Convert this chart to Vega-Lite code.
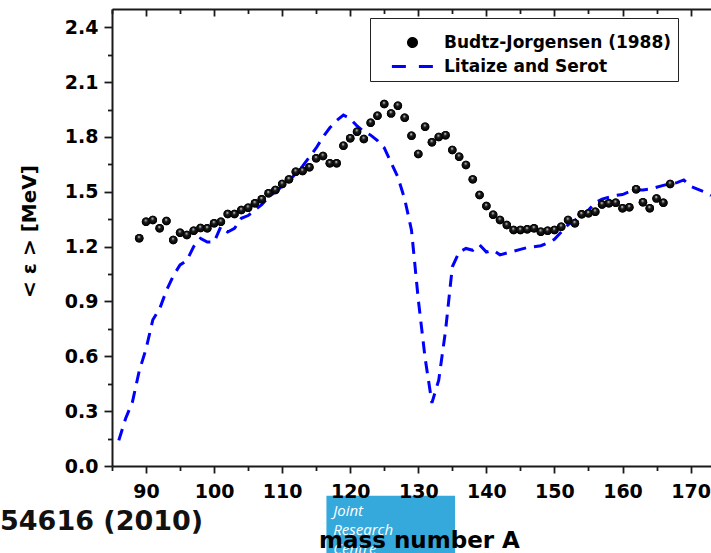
{
  "$schema": "https://vega.github.io/schema/vega-lite/v6.json",
  "width": 599,
  "height": 457,
  "autosize": {"type": "none"},
  "padding": {"left": 112, "top": 9, "right": 0, "bottom": 87},
  "background": "white",
  "config": {
    "view": {"stroke": null},
    "axis": {
      "domainColor": "#1a1a1a",
      "domainWidth": 2,
      "tickColor": "#1a1a1a",
      "tickWidth": 1.8,
      "grid": false,
      "labelFont": "DejaVu Sans",
      "labelFontWeight": "bold",
      "labelFontSize": 19,
      "labelColor": "#000000",
      "titleFont": "DejaVu Sans",
      "titleFontWeight": "bold",
      "titleColor": "#000000"
    }
  },
  "datasets": {
    "litaize": [
      {"A": 86, "e": 0.14}, {"A": 87, "e": 0.26}, {"A": 88, "e": 0.35}, {"A": 89, "e": 0.52},
      {"A": 90, "e": 0.64}, {"A": 91, "e": 0.8}, {"A": 92, "e": 0.86}, {"A": 93, "e": 0.96},
      {"A": 94, "e": 1.04}, {"A": 95, "e": 1.1}, {"A": 96, "e": 1.125}, {"A": 97, "e": 1.2},
      {"A": 98, "e": 1.245}, {"A": 99, "e": 1.225}, {"A": 100, "e": 1.225}, {"A": 101, "e": 1.31},
      {"A": 102, "e": 1.28}, {"A": 103, "e": 1.3}, {"A": 104, "e": 1.355}, {"A": 105, "e": 1.37},
      {"A": 106, "e": 1.4}, {"A": 107, "e": 1.43}, {"A": 108, "e": 1.47}, {"A": 109, "e": 1.5},
      {"A": 110, "e": 1.53}, {"A": 111, "e": 1.56}, {"A": 112, "e": 1.6}, {"A": 113, "e": 1.64},
      {"A": 114, "e": 1.69}, {"A": 115, "e": 1.74}, {"A": 116, "e": 1.8}, {"A": 117, "e": 1.85},
      {"A": 118, "e": 1.89}, {"A": 119, "e": 1.92}, {"A": 120, "e": 1.9}, {"A": 121, "e": 1.86},
      {"A": 122, "e": 1.83}, {"A": 123, "e": 1.81}, {"A": 124, "e": 1.78}, {"A": 125, "e": 1.74},
      {"A": 126, "e": 1.66}, {"A": 127, "e": 1.58}, {"A": 128, "e": 1.46}, {"A": 129, "e": 1.29},
      {"A": 130, "e": 0.91}, {"A": 131, "e": 0.59}, {"A": 132, "e": 0.345}, {"A": 133, "e": 0.47},
      {"A": 134, "e": 0.74}, {"A": 135, "e": 1.09}, {"A": 136, "e": 1.17}, {"A": 137, "e": 1.19},
      {"A": 138, "e": 1.18}, {"A": 139, "e": 1.21}, {"A": 140, "e": 1.17}, {"A": 141, "e": 1.18},
      {"A": 142, "e": 1.155}, {"A": 143, "e": 1.165}, {"A": 144, "e": 1.175}, {"A": 145, "e": 1.185},
      {"A": 146, "e": 1.195}, {"A": 147, "e": 1.2}, {"A": 148, "e": 1.205}, {"A": 149, "e": 1.22},
      {"A": 150, "e": 1.24}, {"A": 151, "e": 1.28}, {"A": 152, "e": 1.32}, {"A": 153, "e": 1.345},
      {"A": 154, "e": 1.37}, {"A": 155, "e": 1.4}, {"A": 156, "e": 1.44}, {"A": 157, "e": 1.46},
      {"A": 158, "e": 1.47}, {"A": 159, "e": 1.48}, {"A": 160, "e": 1.485}, {"A": 161, "e": 1.5},
      {"A": 162, "e": 1.51}, {"A": 163, "e": 1.51}, {"A": 164, "e": 1.515}, {"A": 165, "e": 1.525},
      {"A": 166, "e": 1.535}, {"A": 167, "e": 1.545}, {"A": 168, "e": 1.55}, {"A": 169, "e": 1.565},
      {"A": 170, "e": 1.53}, {"A": 171, "e": 1.515}, {"A": 172, "e": 1.5}, {"A": 173, "e": 1.48}
    ],
    "budtz": [
      {"A": 89, "e": 1.246}, {"A": 90, "e": 1.336}, {"A": 91, "e": 1.346}, {"A": 92, "e": 1.3},
      {"A": 93, "e": 1.34}, {"A": 94, "e": 1.236}, {"A": 95, "e": 1.276}, {"A": 96, "e": 1.264},
      {"A": 97, "e": 1.287}, {"A": 98, "e": 1.302}, {"A": 99, "e": 1.3}, {"A": 100, "e": 1.328},
      {"A": 101, "e": 1.336}, {"A": 102, "e": 1.378}, {"A": 103, "e": 1.378}, {"A": 104, "e": 1.4},
      {"A": 105, "e": 1.413}, {"A": 106, "e": 1.437}, {"A": 107, "e": 1.459}, {"A": 108, "e": 1.492},
      {"A": 109, "e": 1.51}, {"A": 110, "e": 1.543}, {"A": 111, "e": 1.568}, {"A": 112, "e": 1.61},
      {"A": 113, "e": 1.614}, {"A": 114, "e": 1.634}, {"A": 115, "e": 1.683}, {"A": 116, "e": 1.696},
      {"A": 117, "e": 1.656}, {"A": 118, "e": 1.656}, {"A": 119, "e": 1.752}, {"A": 120, "e": 1.793},
      {"A": 121, "e": 1.829}, {"A": 122, "e": 1.789}, {"A": 123, "e": 1.878}, {"A": 124, "e": 1.916},
      {"A": 125, "e": 1.98}, {"A": 126, "e": 1.929}, {"A": 127, "e": 1.971}, {"A": 128, "e": 1.905},
      {"A": 129, "e": 1.807}, {"A": 130, "e": 1.707}, {"A": 131, "e": 1.856}, {"A": 132, "e": 1.771},
      {"A": 133, "e": 1.8}, {"A": 134, "e": 1.81}, {"A": 135, "e": 1.729}, {"A": 136, "e": 1.692},
      {"A": 137, "e": 1.647}, {"A": 138, "e": 1.568}, {"A": 139, "e": 1.482}, {"A": 140, "e": 1.422},
      {"A": 141, "e": 1.375}, {"A": 142, "e": 1.346}, {"A": 143, "e": 1.318}, {"A": 144, "e": 1.291},
      {"A": 145, "e": 1.291}, {"A": 146, "e": 1.295}, {"A": 147, "e": 1.3}, {"A": 148, "e": 1.282},
      {"A": 149, "e": 1.287}, {"A": 150, "e": 1.291}, {"A": 151, "e": 1.309}, {"A": 152, "e": 1.346},
      {"A": 153, "e": 1.328}, {"A": 154, "e": 1.377}, {"A": 155, "e": 1.382}, {"A": 156, "e": 1.391},
      {"A": 157, "e": 1.431}, {"A": 158, "e": 1.437}, {"A": 159, "e": 1.44}, {"A": 160, "e": 1.41},
      {"A": 161, "e": 1.415}, {"A": 162, "e": 1.514}, {"A": 163, "e": 1.443}, {"A": 164, "e": 1.41},
      {"A": 165, "e": 1.464}, {"A": 166, "e": 1.44}, {"A": 167, "e": 1.543}
    ],
    "notes": [
      {"x": 116.5, "x2": 135.4, "y": -0.1625, "y2": -0.5, "tx": 117.5, "ty": -0.2735, "cx": 98.4, "cy": -0.35}
    ]
  },
  "resolve": {"axis": {"x": "independent", "y": "independent"}},
  "layer": [
    {
      "data": {"name": "litaize"},
      "mark": {"type": "line", "strokeWidth": 3, "strokeDash": [12, 8], "interpolate": "linear"},
      "encoding": {
        "x": {
          "field": "A", "type": "quantitative",
          "scale": {"domain": [85, 173], "nice": false, "zero": false},
          "axis": {
            "orient": "bottom", "values": [90, 100, 110, 120, 130, 140, 150, 160, 170],
            "tickSize": 7, "labelPadding": 9, "labelFlush": false,
            "title": "mass number A", "titleFontSize": 23,
            "titleX": 307, "titleY": 81, "titleBaseline": "alphabetic", "titleAlign": "center",
            "zindex": 2
          }
        },
        "y": {
          "field": "e", "type": "quantitative",
          "scale": {"domain": [0, 2.5], "nice": false, "zero": false},
          "axis": {
            "orient": "left", "values": [0, 0.3, 0.6, 0.9, 1.2, 1.5, 1.8, 2.1, 2.4],
            "format": ".1f", "tickSize": 8, "labelPadding": 6, "labelFlush": false,
            "title": "< ε > [MeV]", "titleFontSize": 20, "titleAngle": -90,
            "titleX": -83, "titleY": 222, "titleBaseline": "middle", "titleAlign": "center"
          }
        },
        "color": {
          "datum": "Litaize and Serot",
          "scale": {
            "domain": ["Budtz-Jorgensen (1988)", "Litaize and Serot"],
            "range": ["#000000", "#0000ff"]
          },
          "legend": {
            "orient": "none", "legendX": 258, "legendY": 9,
            "title": " ", "titleFontSize": 8, "titlePadding": 2,
            "strokeColor": "#222222", "fillColor": "#ffffff", "padding": 6,
            "labelFont": "DejaVu Sans", "labelFontWeight": "bold", "labelFontSize": 17,
            "labelColor": "#000000", "labelOffset": 23, "labelLimit": 0,
            "rowPadding": 4, "symbolOffset": 28,
            "encode": {
              "labels": {
                "update": {
                  "text": {"signal": "datum.label + '\u2003\u2003'"}
                }
              },
              "symbols": {
                "update": {
                  "shape": {"signal": "datum.value === 'Litaize and Serot' ? 'stroke' : 'circle'"},
                  "size": {"signal": "datum.value === 'Litaize and Serot' ? 1700 : 64"},
                  "fill": {"signal": "datum.value === 'Litaize and Serot' ? 'transparent' : '#000000'"},
                  "stroke": {"signal": "datum.value === 'Litaize and Serot' ? '#0000ff' : 'transparent'"},
                  "strokeWidth": {"value": 3},
                  "strokeDash": {"signal": "datum.value === 'Litaize and Serot' ? [14, 13] : [1, 0]"},
                  "opacity": {"value": 1}
                }
              }
            }
          }
        }
      }
    },
    {
      "data": {"name": "budtz"},
      "mark": {"type": "point", "filled": true, "opacity": 1, "size": 72},
      "encoding": {
        "x": {
          "field": "A", "type": "quantitative",
          "axis": {
            "orient": "top", "values": [90, 100, 110, 120, 130, 140, 150, 160, 170],
            "tickSize": -7, "labels": false, "title": null
          }
        },
        "y": {
          "field": "e", "type": "quantitative",
          "axis": {
            "orient": "left", "values": [0.15, 0.45, 0.75, 1.05, 1.35, 1.65, 1.95, 2.25],
            "tickSize": 4.5, "labels": false, "domain": false, "title": null
          }
        },
        "color": {"datum": "Budtz-Jorgensen (1988)"}
      }
    },
    {
      "data": {"name": "budtz"},
      "mark": {
        "type": "point", "filled": true, "opacity": 1, "size": 72,
        "fill": {
          "gradient": "radial", "x1": 0.45, "y1": 0.3, "r1": 0, "x2": 0.5, "y2": 0.5, "r2": 0.5,
          "stops": [
            {"offset": 0, "color": "#ffffff"},
            {"offset": 0.14, "color": "#a8a8a8"},
            {"offset": 0.38, "color": "#1c1c1c"},
            {"offset": 1, "color": "#000000"}
          ]
        }
      },
      "encoding": {
        "x": {
          "field": "A", "type": "quantitative",
          "axis": {
            "orient": "top", "values": [85, 95, 105, 115, 125, 135, 145, 155, 165],
            "tickSize": -4.5, "labels": false, "domain": false, "title": null
          }
        },
        "y": {"field": "e", "type": "quantitative", "axis": null}
      }
    },
    {
      "data": {"name": "notes"},
      "mark": {"type": "rect", "fill": "#36a9dc", "clip": false},
      "encoding": {
        "x": {
          "field": "x", "type": "quantitative",
          "axis": {
            "orient": "bottom", "values": [85, 95, 105, 115, 125, 135, 145, 155, 165],
            "tickSize": 4.5, "labels": false, "domain": false, "title": null
          }
        },
        "x2": {"field": "x2"},
        "y": {"field": "y", "type": "quantitative", "axis": null},
        "y2": {"field": "y2"}
      }
    },
    {
      "data": {"name": "notes"},
      "mark": {
        "type": "text", "align": "left", "baseline": "alphabetic", "clip": false,
        "font": "Open Sans", "fontStyle": "italic", "fontSize": 15, "lineHeight": 19,
        "color": "#ffffff"
      },
      "encoding": {
        "x": {"field": "tx", "type": "quantitative", "axis": null},
        "y": {"field": "ty", "type": "quantitative", "axis": null},
        "text": {"value": ["Joint", "Research", "Centre"]}
      }
    },
    {
      "data": {"name": "notes"},
      "mark": {
        "type": "text", "align": "right", "baseline": "alphabetic", "clip": false,
        "font": "DejaVu Sans", "fontWeight": "bold", "fontSize": 27, "color": "#111111"
      },
      "encoding": {
        "x": {"field": "cx", "type": "quantitative", "axis": null},
        "y": {"field": "cy", "type": "quantitative", "axis": null},
        "text": {"value": "54616 (2010)"}
      }
    }
  ]
}
